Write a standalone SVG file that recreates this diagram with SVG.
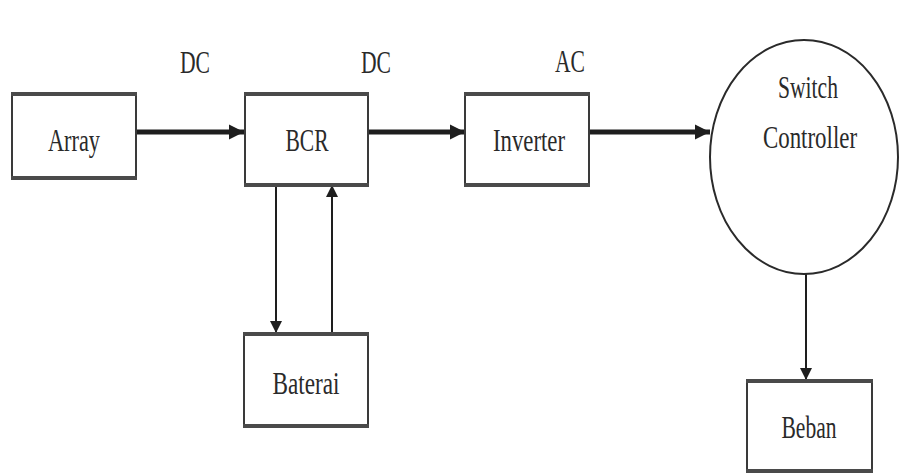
<svg xmlns="http://www.w3.org/2000/svg" width="899" height="473" viewBox="0 0 899 473">
<style>
.box{fill:#fff;stroke:#3a3a3a;stroke-width:2}
.edge{stroke:#4a4a4a;stroke-width:4}
.t{font-family:"Liberation Serif","Times New Roman",serif;font-size:32px;fill:#2a2a2a;text-anchor:middle}
.thick{stroke:#1e1e1e;stroke-width:5;fill:none}
.thin{stroke:#1e1e1e;stroke-width:2;fill:none}
</style>
<defs>
<marker id="ah" viewBox="0 0 10 10" refX="10" refY="5" markerWidth="3" markerHeight="3.4" markerUnits="strokeWidth" orient="auto"><path d="M0,0 L10,5 L0,10 Z" fill="#1e1e1e"/></marker>
<marker id="av" viewBox="0 0 10 10" refX="10" refY="5" markerWidth="10" markerHeight="6" markerUnits="strokeWidth" orient="auto"><path d="M0,0 L10,5 L0,10 Z" fill="#1e1e1e"/></marker>
</defs>
<rect width="899" height="473" fill="#fff"/>
<g id="labels">
<text class="t" x="195" y="73" textLength="30" lengthAdjust="spacingAndGlyphs">DC</text>
<text class="t" x="376" y="73" textLength="30" lengthAdjust="spacingAndGlyphs">DC</text>
<text class="t" x="570" y="72" textLength="30" lengthAdjust="spacingAndGlyphs">AC</text>
</g>
<g id="connectors">
<line class="thick" x1="136" y1="132" x2="244" y2="132" marker-end="url(#ah)"/>
<line class="thick" x1="368" y1="132" x2="465" y2="132" marker-end="url(#ah)"/>
<line class="thick" x1="589" y1="132" x2="710" y2="132" marker-end="url(#ah)"/>
<line class="thin" x1="276" y1="185" x2="276" y2="333" marker-end="url(#av)"/>
<line class="thin" x1="332" y1="333" x2="332" y2="185" marker-end="url(#av)"/>
<line class="thin" x1="806" y1="274" x2="806" y2="380" marker-end="url(#av)"/>
</g>
<g id="array">
<rect class="box" x="12" y="94" width="124" height="84"/>
<line class="edge" x1="11" y1="94" x2="137" y2="94"/><line class="edge" x1="11" y1="178" x2="137" y2="178"/>
<text class="t" x="74" y="151" textLength="52" lengthAdjust="spacingAndGlyphs">Array</text>
</g>
<g id="bcr">
<rect class="box" x="245" y="94" width="123" height="91"/>
<line class="edge" x1="244" y1="94" x2="369" y2="94"/><line class="edge" x1="244" y1="185" x2="369" y2="185"/>
<text class="t" x="307" y="151" textLength="43" lengthAdjust="spacingAndGlyphs">BCR</text>
</g>
<g id="inverter">
<rect class="box" x="465" y="94" width="124" height="91"/>
<line class="edge" x1="464" y1="94" x2="590" y2="94"/><line class="edge" x1="464" y1="185" x2="590" y2="185"/>
<text class="t" x="529" y="151" textLength="72" lengthAdjust="spacingAndGlyphs">Inverter</text>
</g>
<g id="switch-controller">
<ellipse cx="804" cy="157" rx="94" ry="117" fill="#fff" stroke="#2a2a2a" stroke-width="2"/>
<text class="t" x="808" y="98" textLength="60" lengthAdjust="spacingAndGlyphs">Switch</text>
<text class="t" x="810" y="148" textLength="94" lengthAdjust="spacingAndGlyphs">Controller</text>
</g>
<g id="baterai">
<rect class="box" x="244" y="334" width="124" height="92"/>
<line class="edge" x1="243" y1="334" x2="369" y2="334"/><line class="edge" x1="243" y1="426" x2="369" y2="426"/>
<text class="t" x="306" y="394" textLength="67" lengthAdjust="spacingAndGlyphs">Baterai</text>
</g>
<g id="beban">
<rect class="box" x="747" y="381" width="125" height="90"/>
<line class="edge" x1="746" y1="381" x2="873" y2="381"/><line class="edge" x1="746" y1="471" x2="873" y2="471"/>
<text class="t" x="809" y="438" textLength="55" lengthAdjust="spacingAndGlyphs">Beban</text>
</g>
</svg>
